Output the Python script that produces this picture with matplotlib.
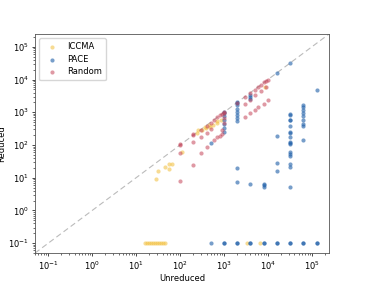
import numpy as np
import matplotlib
matplotlib.use("Agg")
import matplotlib.pyplot as plt

# ICCMA
iccma_x = [16, 18, 20, 22, 24, 27, 30, 33, 37, 41, 45, 3300, 6600,
           28, 32, 46, 56, 57, 65, 111, 240, 260, 310, 370, 390, 450, 480,
           570, 680, 700, 850, 8500]
iccma_y = [0.1, 0.1, 0.1, 0.1, 0.1, 0.1, 0.1, 0.1, 0.1, 0.1, 0.1, 0.1, 0.1,
           9.3, 16.6, 22, 18.8, 27, 27, 61, 225, 285, 285, 360, 320, 400, 345,
           400, 475, 560, 575, 5800]

# PACE
pace_x = [500, 1000, 1000, 2000, 2000, 4000, 4000, 8000, 8000, 16000, 16000,
          32000, 32000, 64000, 64000, 128000, 128000,
          16000, 32000, 128000,
          1000, 1000, 1000, 1000, 1000, 1000, 1000,
          2000, 2000, 2000, 2000, 2000, 2000, 2000, 2000, 2000, 2000,
          4000, 4000, 4000, 4000, 500,
          8000, 8000, 8000, 16000, 16000, 16000,
          32000, 32000, 32000, 32000, 32000, 32000, 32000, 32000, 32000,
          32000, 32000, 32000, 32000, 32000, 32000, 32000, 32000,
          64000, 64000, 64000, 64000, 64000, 64000, 64000, 64000, 64000]
pace_y = [0.1, 0.1, 0.1, 0.1, 0.1, 0.1, 0.1, 0.1, 0.1, 0.1, 0.1,
          0.1, 0.1, 0.1, 0.1, 0.1, 0.1,
          15500, 31000, 4900,
          1000, 950, 760, 575, 435, 330, 250,
          2050, 1900, 1650, 1300, 1050, 850, 680, 560, 20, 7.4,
          3300, 2900, 2500, 6.4, 113,
          6.6, 5.8, 5.3, 187, 29, 15.6,
          870, 850, 600, 575, 375, 250, 230, 172, 125, 118,
          107, 63, 53, 46, 26.5, 22, 5.2,
          1650, 1400, 1150, 920, 750, 575, 435, 370, 142]

# Random
random_x = [100, 100, 200, 200, 300, 400, 500, 600, 700, 800, 900, 1000, 1000,
            2000, 3000, 4000, 5000, 6000, 7000, 8000, 9000, 10000,
            100, 200, 300, 400, 500, 3000, 4000, 5000, 7000, 9000,
            100, 200, 300, 400, 600, 700, 800, 900, 900, 1000, 1000,
            3000, 4000, 5000, 6000, 8000, 10000]
random_y = [98, 105, 200, 210, 280, 375, 475, 575, 700, 810, 900, 950, 1020,
            1900, 2900, 4000, 4700, 5800, 7000, 8400, 8800, 9400,
            58, 125, 170, 235, 300, 1850, 2300, 3300, 4600, 5800,
            8, 25, 58, 84, 140, 170, 195, 220, 285, 460, 650,
            720, 960, 1150, 1450, 1750, 2300]

lims = [0.05, 2.45e5]

fig = plt.figure(figsize=(3.67, 2.84), dpi=100)
ax = fig.add_axes([0.0954, 0.109, 0.801, 0.771])

ax.plot(lims, lims, ls=(0, (5, 3)), color="#bbbbbb", lw=0.8, zorder=0)
ax.scatter(iccma_x, iccma_y, s=9, color="#f2bf3a", alpha=0.55, lw=0, label="ICCMA")
ax.scatter(pace_x, pace_y, s=9, color="#1d5ea8", alpha=0.6, lw=0, label="PACE")
ax.scatter(random_x, random_y, s=9, color="#c5455a", alpha=0.55, lw=0, label="Random")

ax.set_xscale("log")
ax.set_yscale("log")
ax.set_xlim(lims)
ax.set_ylim(lims)
ax.set_xlabel("Unreduced", fontsize=6, labelpad=2)
ax.set_ylabel("Reduced", fontsize=6, labelpad=1)
ax.tick_params(labelsize=6, width=0.5, length=2.5, pad=2)
ax.tick_params(which="minor", width=0.4, length=1.5)
for s in ax.spines.values():
    s.set_linewidth(0.6)
    s.set_color("#555555")
ax.legend(loc="upper left", fontsize=6, handletextpad=0.8, borderpad=0.5,
          labelspacing=0.4, framealpha=0.8, edgecolor="#cccccc")

fig.savefig("out.png", dpi=100)
